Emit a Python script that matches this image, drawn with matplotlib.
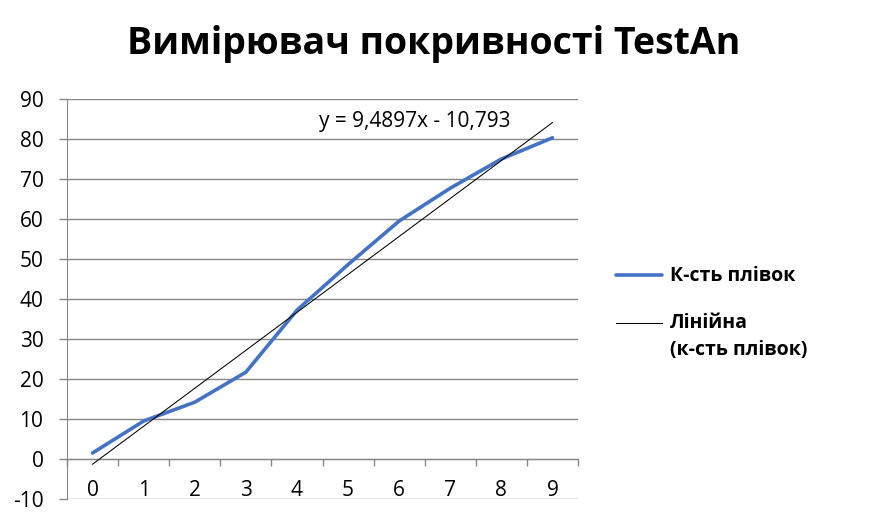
import numpy as np
import matplotlib.pyplot as plt
from matplotlib.lines import Line2D

plt.rcParams['font.family'] = ['Open Sans', 'DejaVu Sans']

# data
categories = ['0', '1', '2', '3', '4', '5', '6', '7', '8', '9']
film_count = [1.5, 9.5, 14.2, 21.7, 37.2, 48.6, 59.5, 67.7, 75.0, 80.3]
trend_slope = 9.4897
trend_intercept = -10.793
y_ticks = [-10, 0, 10, 20, 30, 40, 50, 60, 70, 80, 90]

title = 'Вимірювач покривності TestAn'
series_label = 'К-сть плівок'
trend_label = ['Лінійна', '(к-сть плівок)']
equation = 'y = 9,4897x - 10,793'

grid_col = '#868686'
blue = '#4472C4'

W, H = 872, 521
fig = plt.figure(figsize=(W / 100, H / 100), dpi=100)
ax = fig.add_axes([67 / W, 1 - 499 / H, 511 / W, 400 / H])

pos = np.arange(len(categories))
# Excel numbers categories from 1 for the trendline
trend_y = trend_slope * (pos + 1) + trend_intercept

ax.plot(pos, film_count, color=blue, lw=2.6, solid_capstyle='round', zorder=3)
ax.plot(pos, trend_y, color='black', lw=0.75, zorder=4)

ax.set_xlim(-0.5, len(categories) - 0.5)
ax.set_ylim(-10, 90)
ax.set_yticks(y_ticks)
ax.set_yticklabels([str(t) for t in y_ticks])
ax.yaxis.grid(True, color=grid_col, lw=1.0)
ax.set_axisbelow(True)

for s in ['top', 'right']:
    ax.spines[s].set_visible(False)
ax.spines['left'].set_color(grid_col)
ax.spines['bottom'].set_color(grid_col)
ax.spines['bottom'].set_position(('data', 0))

ax.tick_params(axis='y', length=6, width=1, color=grid_col, pad=11, labelsize=15)
ax.set_xticks(pos)
ax.set_xticklabels(categories)
ax.set_xticks(np.arange(-0.5, len(categories)), minor=True)
ax.tick_params(axis='x', which='major', length=0, pad=15, labelsize=15)
ax.tick_params(axis='x', which='minor', length=5, width=1, color=grid_col, direction='out')

ax.text(6.31, 84.3, equation, ha='center', va='center', fontsize=15)

fig.text(0.497, 0.915, title, ha='center', va='center', fontsize=27, fontweight='bold')

# legend drawn by hand: the trendline handle sits on the first text line
fig.add_artist(Line2D([616 / W, 662 / W], [1 - 275 / H] * 2, color=blue, lw=2.6,
                      solid_capstyle='round'))
fig.text(670 / W, 1 - 276 / H, series_label, ha='left', va='center',
         fontsize=14, fontweight='bold')
fig.add_artist(Line2D([616 / W, 662 / W], [1 - 323 / H] * 2, color='black', lw=0.75))
fig.text(670 / W, 1 - 323 / H, trend_label[0], ha='left', va='center',
         fontsize=14, fontweight='bold')
fig.text(670 / W, 1 - 350 / H, trend_label[1], ha='left', va='center',
         fontsize=14, fontweight='bold')

fig.savefig('out.png', dpi=100)
